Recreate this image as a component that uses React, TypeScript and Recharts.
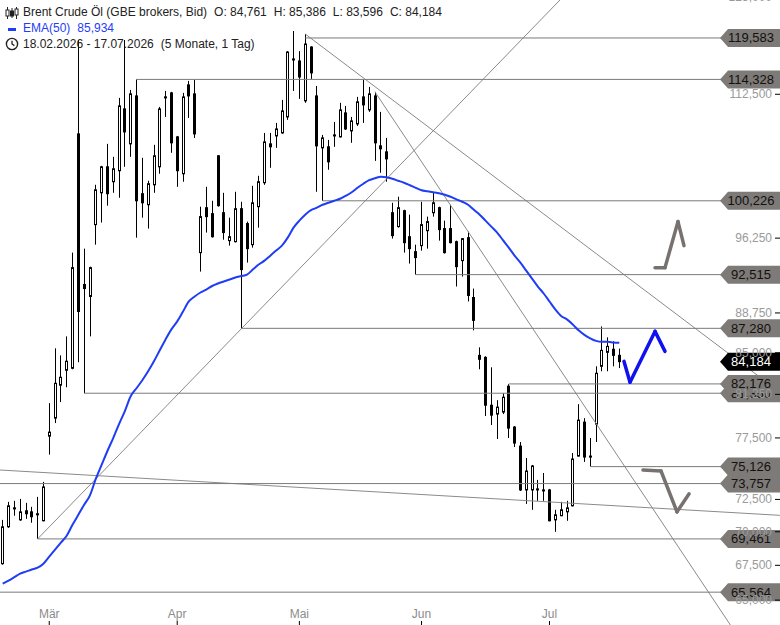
import React from "react";
import { ComposedChart, Bar, Line, XAxis, YAxis, ReferenceLine } from "recharts";

const FONT = '"Liberation Sans", Arial, sans-serif';

// daily candles 18.02.2026 - 17.07.2026
const opens = [
  67.62, 70.38, 71.84, 70.91, 71.61, 71.53, 71.38, 70.84, 77.65, 79.18,
  82.06, 83.4, 83.58, 107.77, 91.53, 90.35, 97.67, 101.1, 103.99, 102.32,
  103.55, 110.73, 106.61, 112.3, 101.0, 99.8, 101.98, 103.99, 112.18, 112.67,
  107.42, 103.21, 113.65, 112.55, 94.75, 99.48, 98.84, 105.24, 98.94, 95.99,
  95.88, 99.37, 97.78, 95.57, 99.59, 102.21, 106.61, 107.53, 107.88, 109.77,
  116.89, 116.64, 111.7, 118.42, 112.3, 106.15, 106.27, 107.65, 107.42, 110.25,
  108.12, 108.94, 112.18, 110.61, 112.3, 106.38, 105.69, 98.94, 97.46, 99.16,
  96.4, 94.85, 95.47, 97.03, 98.94, 99.48, 97.25, 97.25, 95.88, 93.93,
  96.3, 90.25, 84.76, 84.58, 80.3, 79.53, 79.7, 81.97, 78.42, 76.82,
  73.25, 73.25, 73.33, 73.25, 73.25, 70.91, 71.23, 71.53, 72.0, 75.99,
  78.84, 75.99, 78.67, 83.76, 85.04, 85.32, 84.761,
];
const highs = [
  70.91, 72.31, 72.39, 72.54, 72.23, 71.92, 72.7, 73.89, 80.48, 85.41,
  84.76, 86.52, 94.75, 119.32, 95.16, 93.32, 101.98, 104.1, 106.61, 105.12,
  112.06, 119.32, 113.03, 114.33, 105.01, 102.43, 106.5, 110.97, 112.91, 112.79,
  107.53, 112.67, 114.14, 114.26, 99.59, 101.76, 100.23, 105.3, 101.1, 98.41,
  101.21, 100.12, 97.99, 101.87, 102.98, 107.88, 107.88, 109.06, 111.82, 117.89,
  120.49, 117.89, 120.1, 118.5, 113.52, 107.65, 107.07, 109.18, 111.46, 111.09,
  109.77, 112.18, 114.26, 113.4, 112.79, 110.37, 107.3, 100.01, 100.67, 99.26,
  98.73, 95.57, 100.12, 98.52, 101.1, 99.59, 98.09, 99.8, 95.99, 96.2,
  96.93, 91.13, 85.5, 84.67, 83.67, 80.74, 81.35, 82.15, 78.5, 77.16,
  75.83, 75.26, 74.05, 74.61, 73.33, 71.69, 72.31, 72.39, 76.24, 80.39,
  79.18, 77.49, 83.76, 87.46, 86.43, 86.06, 85.386,
];
const lows = [
  67.55, 70.3, 71.23, 70.84, 70.99, 70.69, 69.46, 70.8, 76.11, 78.76,
  80.57, 81.88, 83.49, 84.13, 81.35, 86.52, 95.57, 97.89, 99.7, 101.1,
  100.56, 103.99, 105.12, 96.3, 98.41, 97.25, 101.1, 103.21, 109.77, 105.58,
  101.76, 102.32, 109.65, 107.3, 92.82, 96.83, 96.3, 99.59, 96.09, 95.47,
  95.8, 87.28, 93.73, 95.26, 97.35, 101.98, 103.88, 106.15, 107.8, 109.42,
  112.91, 111.94, 111.46, 114.39, 101.21, 100.23, 103.66, 106.27, 107.35, 108.23,
  106.73, 108.7, 109.06, 110.37, 104.66, 103.32, 102.32, 96.2, 97.35, 94.75,
  93.63, 92.52, 94.95, 95.16, 98.52, 95.99, 94.65, 95.7, 91.33, 92.32,
  89.86, 87.09, 83.49, 79.36, 78.59, 77.41, 79.53, 77.49, 76.74, 73.17,
  72.15, 71.69, 72.39, 72.39, 70.8, 70.0, 71.2, 70.84, 71.95, 75.95,
  75.51, 75.13, 77.16, 83.31, 83.31, 83.76, 83.596,
];
const closes = [
  70.38, 72.0, 71.76, 71.53, 71.38, 71.15, 71.3, 73.49, 77.99, 82.23,
  82.77, 84.22, 93.22, 88.89, 91.13, 93.22, 101.43, 103.99, 101.0, 103.77,
  111.09, 108.0, 112.55, 100.23, 100.01, 102.1, 105.24, 110.73, 112.06, 106.73,
  103.55, 112.18, 112.3, 107.77, 98.52, 98.52, 96.4, 99.7, 96.83, 96.4,
  99.37, 93.02, 95.16, 100.01, 102.32, 106.84, 106.27, 108.35, 110.49, 117.77,
  116.77, 114.63, 118.8, 115.14, 106.38, 107.3, 104.55, 107.53, 110.61, 108.35,
  109.3, 111.58, 111.21, 112.55, 106.73, 106.04, 104.89, 96.51, 99.48, 95.78,
  95.16, 94.24, 97.67, 97.99, 100.01, 97.14, 94.75, 95.78, 93.32, 96.2,
  90.45, 88.04, 84.4, 80.3, 79.44, 80.13, 81.0, 78.33, 77.07, 73.25,
  74.77, 75.18, 73.25, 73.17, 70.84, 71.3, 71.69, 71.84, 75.75, 79.01,
  75.91, 75.91, 83.13, 85.22, 85.59, 84.76, 84.184,
];
const ema50 = [
  66.17, 66.39, 66.64, 66.9, 67.04, 67.19, 67.33, 67.62, 68.14, 68.66,
  69.18, 69.7, 70.53, 71.3, 72.08, 72.82, 74.13, 75.26, 76.41, 77.49,
  78.67, 79.79, 81.09, 81.79, 82.5, 83.31, 84.22, 85.23, 86.24, 87.18,
  87.94, 88.89, 89.86, 90.35, 90.74, 91.03, 91.38, 91.63, 91.83, 92.02,
  92.22, 92.37, 92.52, 93.02, 93.53, 93.93, 94.44, 94.96, 95.47, 96.3,
  97.35, 98.09, 98.73, 99.21, 99.48, 99.8, 100.01, 100.23, 100.45, 100.78,
  101.16, 101.65, 102.1, 102.49, 102.71, 102.87, 102.82, 102.65, 102.43, 102.21,
  101.93, 101.65, 101.38, 101.27, 101.16, 101.05, 100.89, 100.67, 100.39, 100.12,
  99.8, 99.26, 98.73, 98.09, 97.46, 96.83, 96.04, 95.26, 94.44, 93.73,
  92.92, 92.12, 91.33, 90.64, 89.86, 89.09, 88.46, 88.13, 87.65, 87.09,
  86.66, 86.34, 86.1, 86.01, 86.01, 85.96, 85.934,
];

const monthTicks = [8, 30, 51, 72, 94];
const monthLabels = ["Mär", "Apr", "Mai", "Jun", "Jul"];
const priceTicks = [65, 67.5, 70, 72.5, 77.5, 81.25, 85, 88.75, 96.25, 112.5, 125];

// horizontal levels: start candle and price
const levelFrom = [52, 23, 55, 71, 41, 14, 87, 101, -0.464, 6, -0.464];
const levelValue = [119.583, 114.328, 100.226, 92.515, 87.28, 81.35, 82.176, 75.126, 73.757, 69.461, 65.564];
const lastPrice = 84.184;

// trend lines [x1, y1, x2, y2]
const trendLines = [
  [6, 69.461, 95.8, 124.61],
  [52, 120.1, 133.6, 81.44],
  [64, 112.79, 125.1, 63.27],
  [-0.464, 74.85, 133.6, 71.26],
];

// drawn arrows
const blueArrowX = [106.8, 107.84, 112.14, 113.86];
const blueArrowY = [84.21, 82.33, 86.99, 85.13];
const upArrowX = [112.14, 113.86, 116.09, 117.12];
const upArrowY = [93.22, 93.22, 97.99, 95.47];
const downArrowX = [110.07, 113.17, 115.92, 118.0];
const downArrowY = [74.85, 74.77, 71.53, 72.94];

const rows = opens.map((o, i) => ({
  i,
  o,
  h: highs[i],
  l: lows[i],
  c: closes[i],
  hl: [lows[i], highs[i]],
  ema: ema50[i],
}));

const fmt = (v: number) => v.toFixed(3).replace(".", ",");

const Candle = (props: any) => {
  const { x, y, width, height, payload } = props;
  if (x == null || y == null || !payload) return null;
  const top = Math.min(y, y + height);
  const bot = Math.max(y, y + height);
  const lh = Math.log(payload.h);
  const span = lh - Math.log(payload.l);
  const py = (p: number) => (span > 0 ? top + ((bot - top) * (lh - Math.log(p))) / span : top);
  const cx = Math.round(x + width / 2) + 0.5;
  const yo = py(payload.o);
  const yc = py(payload.c);
  const up = payload.c >= payload.o;
  const bt = Math.min(yo, yc);
  const bh = Math.max(Math.abs(yo - yc), 1);
  return (
    <g>
      <line x1={cx} x2={cx} y1={top} y2={bot} stroke="#000" strokeWidth={1} />
      <rect x={cx - 1} y={bt} width={2} height={bh} fill={up ? "#fff" : "#000"} stroke="#000" strokeWidth={1} />
    </g>
  );
};

const PriceTick = (props: any) => {
  const { y, payload } = props;
  return (
    <g>
      <text x={772} y={y} dy={4} textAnchor="end" fill="#9a9a9a" fontSize={12} fontFamily={FONT}>
        {fmt(payload.value)}
      </text>
      <line x1={775} x2={780} y1={y} y2={y} stroke="#000" strokeWidth={1} />
    </g>
  );
};

const MonthTick = (props: any) => {
  const { x, payload } = props;
  const k = monthTicks.indexOf(payload.value);
  return (
    <g>
      <text x={x} y={618} textAnchor="middle" fill="#8c8c8c" fontSize={12} fontFamily={FONT}>
        {monthLabels[k]}
      </text>
      <line x1={x} x2={x} y1={621} y2={625} stroke="#000" strokeWidth={1} />
    </g>
  );
};

const boxLabel = (value: number, dark: boolean) => (props: any) => {
  const y = props.viewBox ? props.viewBox.y : 0;
  const pts = `720,${y} 728,${y - 9} 780,${y - 9} 780,${y + 9} 728,${y + 9}`;
  return (
    <g>
      <polygon points={pts} fill={dark ? "#000" : "#7e7a77"} />
      <text x={751} y={y + 4.5} textAnchor="middle" fill={dark ? "#fff" : "#111"} fontSize={13} fontFamily={FONT}>
        {fmt(value)}
      </text>
    </g>
  );
};

const arrowSegments = (xs: number[], ys: number[], color: string, w: number, key: string) =>
  xs.slice(1).map((x, k) => (
    <ReferenceLine
      key={`${key}${k}`}
      segment={[
        { x: xs[k], y: ys[k] },
        { x, y: ys[k + 1] },
      ]}
      stroke={color}
      strokeWidth={w}
      strokeLinecap="round"
      ifOverflow="visible"
    />
  ));

const CandleIcon = () => (
  <svg width="14" height="12" style={{ position: "absolute", left: 5, top: 7 }}>
    <line x1="2.5" x2="2.5" y1="0" y2="12" stroke="#222" />
    <rect x="1" y="3" width="3" height="6" fill="#fff" stroke="#222" />
    <line x1="7" x2="7" y1="1" y2="11" stroke="#222" />
    <rect x="5.5" y="4" width="3" height="5" fill="#222" stroke="#222" />
    <line x1="11.5" x2="11.5" y1="0" y2="12" stroke="#222" />
    <rect x="10" y="2" width="3" height="6" fill="#fff" stroke="#222" />
  </svg>
);

const ClockIcon = () => (
  <svg width="14" height="14" style={{ position: "absolute", left: 5, top: 37 }}>
    <circle cx="7" cy="7" r="5.6" fill="none" stroke="#222" strokeWidth="1.4" />
    <polyline points="7,3.8 7,7 9.4,8.6" fill="none" stroke="#222" strokeWidth="1.3" />
  </svg>
);

const App = () => {
  return (
    <div style={{ position: "absolute", left: 0, top: 0, width: 780, height: 625, background: "#fff", overflow: "hidden" }}>
      <ComposedChart width={780} height={625} data={rows} margin={{ top: 0, right: 0, bottom: 0, left: 0 }}>
        <XAxis
          type="number"
          dataKey="i"
          domain={[-0.464, 124]}
          allowDataOverflow
          ticks={monthTicks}
          interval={0}
          mirror
          height={1}
          axisLine={false}
          tickLine={false}
          tick={(p: any) => <MonthTick {...p} />}
        />
        <YAxis
          orientation="right"
          type="number"
          scale="log"
          domain={[63.27, 124.61]}
          allowDataOverflow
          ticks={priceTicks}
          interval={0}
          width={56}
          axisLine={false}
          tickLine={false}
          tick={(p: any) => <PriceTick {...p} />}
        />
        {trendLines.map((t, k) => (
          <ReferenceLine
            key={`t${k}`}
            segment={[
              { x: t[0], y: t[1] },
              { x: t[2], y: t[3] },
            ]}
            stroke="#8a8a8a"
            strokeWidth={1}
            ifOverflow="visible"
          />
        ))}
        {levelValue.map((v, k) => (
          <ReferenceLine
            key={`l${k}`}
            segment={[
              { x: levelFrom[k], y: v },
              { x: 124, y: v },
            ]}
            stroke="#7a7a7a"
            strokeWidth={1}
            ifOverflow="visible"
          />
        ))}
        <Bar dataKey="hl" barSize={3} shape={(p: any) => <Candle {...p} />} isAnimationActive={false} />
        <Line
          dataKey="ema"
          type="monotone"
          stroke="#1f3df5"
          strokeWidth={2}
          dot={false}
          activeDot={false}
          isAnimationActive={false}
        />
        {arrowSegments(upArrowX, upArrowY, "#77726f", 3.5, "u")}
        {arrowSegments(downArrowX, downArrowY, "#77726f", 3.5, "d")}
        {arrowSegments(blueArrowX, blueArrowY, "#1010f0", 3.5, "b")}
        {levelValue.map((v, k) => (
          <ReferenceLine
            key={`b${k}`}
            segment={[
              { x: 124, y: v },
              { x: 124, y: v },
            ]}
            stroke="none"
            ifOverflow="visible"
            label={boxLabel(v, false)}
          />
        ))}
        <ReferenceLine y={lastPrice} stroke="none" ifOverflow="visible" label={boxLabel(lastPrice, true)} />
      </ComposedChart>
      <div
        style={{
          position: "absolute",
          left: 0,
          top: 0,
          fontFamily: FONT,
          fontSize: 12,
          color: "#222",
          lineHeight: "16px",
          whiteSpace: "pre",
        }}
      >
        <CandleIcon />
        <div style={{ position: "absolute", left: 23, top: 4 }}>
          Brent Crude Öl (GBE brokers, Bid)
          <span style={{ marginLeft: 7 }}>O: 84,761</span>
          <span style={{ marginLeft: 7 }}>H: 85,386</span>
          <span style={{ marginLeft: 7 }}>L: 83,596</span>
          <span style={{ marginLeft: 7 }}>C: 84,184</span>
        </div>
        <div style={{ position: "absolute", left: 8, top: 28, width: 8, height: 3, background: "#1f3df5" }} />
        <div style={{ position: "absolute", left: 23, top: 20, color: "#1f3df5" }}>
          EMA(50)<span style={{ marginLeft: 7 }}>85,934</span>
        </div>
        <ClockIcon />
        <div style={{ position: "absolute", left: 23, top: 36 }}>
          18.02.2026 - 17.07.2026<span style={{ marginLeft: 7 }}>(5 Monate, 1 Tag)</span>
        </div>
      </div>
    </div>
  );
};

export default App;
